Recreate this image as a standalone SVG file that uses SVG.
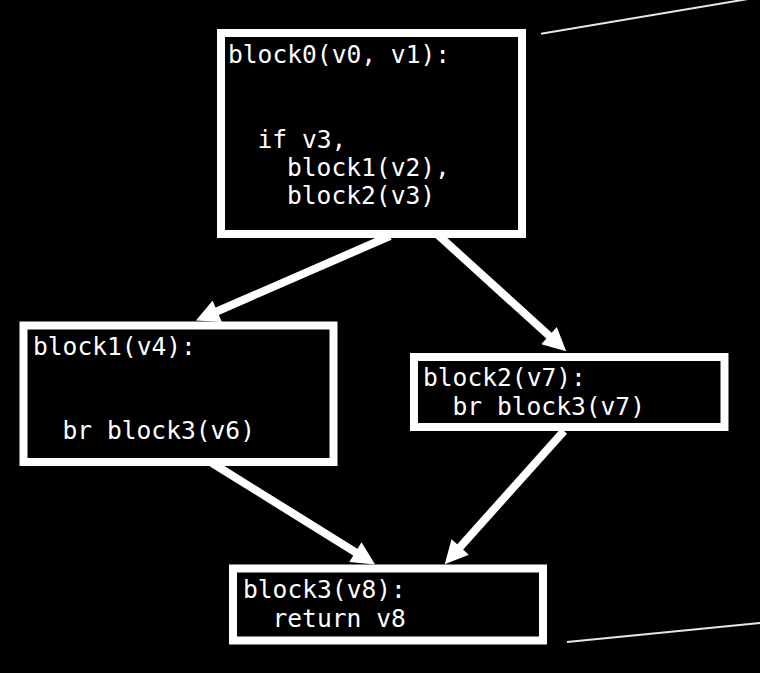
<svg xmlns="http://www.w3.org/2000/svg" width="760" height="673" viewBox="0 0 760 673">
<style>
.box{fill:#000;stroke:#fff;stroke-width:8}
.t{font-family:"DejaVu Sans Mono","Liberation Mono",monospace;font-size:24.6px;fill:#fff}
.edge{stroke:#fff;stroke-width:8;fill:none;marker-end:url(#ah)}
.thin{stroke:#e6e6e6;stroke-width:2;fill:none}
</style>
<defs>
<marker id="ah" viewBox="0 0 10 10" refX="4" refY="5" markerWidth="3.1" markerHeight="2.9" orient="auto" markerUnits="strokeWidth">
<path d="M0,0 L10,5 L0,10 z" fill="#fff"/>
</marker>
</defs>
<rect width="760" height="673" fill="#000"/>
<g id="guides">
<line class="thin" x1="541" y1="33.7" x2="760" y2="-3"/>
<line class="thin" x1="567" y1="642" x2="760" y2="623"/>
</g>
<g id="edges">
<line class="edge" x1="390" y1="236" x2="208.7" y2="315"/>
<line class="edge" x1="437" y1="234" x2="555.9" y2="341.9"/>
<line class="edge" x1="212" y1="463" x2="363.3" y2="557.1"/>
<line class="edge" x1="564" y1="431" x2="454" y2="553.8"/>
</g>
<g id="block0">
<rect class="box" x="221" y="33" width="301" height="201"/>
<text class="t" x="228" y="63">block0(v0, v1):</text>
<text class="t" x="257.5" y="148">if v3,</text>
<text class="t" x="287" y="176">block1(v2),</text>
<text class="t" x="287" y="204">block2(v3)</text>
</g>
<g id="block1">
<rect class="box" x="23.5" y="325.5" width="310" height="136.5"/>
<text class="t" x="33" y="355">block1(v4):</text>
<text class="t" x="62.5" y="439">br block3(v6)</text>
</g>
<g id="block2">
<rect class="box" x="414" y="357" width="310.5" height="70"/>
<text class="t" x="423" y="386">block2(v7):</text>
<text class="t" x="452.5" y="415">br block3(v7)</text>
</g>
<g id="block3">
<rect class="box" x="233" y="568.5" width="310" height="72"/>
<text class="t" x="243" y="598">block3(v8):</text>
<text class="t" x="272.5" y="627">return v8</text>
</g>
</svg>
